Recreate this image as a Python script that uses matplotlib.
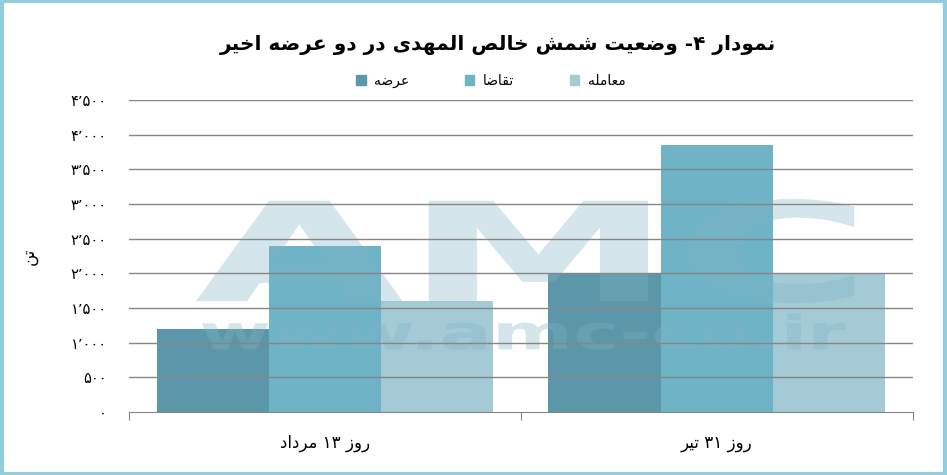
import re
import matplotlib
matplotlib.use("Agg")
import matplotlib.pyplot as plt
from matplotlib.patches import Rectangle, Patch, PathPatch
from matplotlib.textpath import TextPath
from matplotlib.font_manager import FontProperties
from matplotlib.transforms import Affine2D
import numpy as np

plt.rcParams['font.family'] = ['DejaVu Sans']

# data
categories = ["روز ۱۳ مرداد", "روز ۳۱ تیر"]
series_names = ["عرضه", "تقاضا", "معامله"]
arze = [1200, 2000]
taghaza = [2400, 3850]
moamele = [1600, 2000]
yticks = [0, 500, 1000, 1500, 2000, 2500, 3000, 3500, 4000, 4500]
ytick_labels = ["۰", "۵۰۰", "۱٬۰۰۰", "۱٬۵۰۰", "۲٬۰۰۰", "۲٬۵۰۰",
                "۳٬۰۰۰", "۳٬۵۰۰", "۴٬۰۰۰", "۴٬۵۰۰"]
title = "نمودار ۴- وضعیت شمش خالص المهدی در دو عرضه اخیر"
ylabel = "تن"

colors = ["#5B97A8", "#6FB3C6", "#A3CAD5"]

# simple arabic shaping: (isolated, final, initial, medial)
FORMS = {
    'ا': (0xFE8D, 0xFE8E, None, None),
    'ت': (0xFE95, 0xFE96, 0xFE97, 0xFE98),
    'خ': (0xFEA5, 0xFEA6, 0xFEA7, 0xFEA8),
    'د': (0xFEA9, 0xFEAA, None, None),
    'ر': (0xFEAD, 0xFEAE, None, None),
    'ز': (0xFEAF, 0xFEB0, None, None),
    'ش': (0xFEB5, 0xFEB6, 0xFEB7, 0xFEB8),
    'ص': (0xFEB9, 0xFEBA, 0xFEBB, 0xFEBC),
    'ض': (0xFEBD, 0xFEBE, 0xFEBF, 0xFEC0),
    'ع': (0xFEC9, 0xFECA, 0xFECB, 0xFECC),
    'ق': (0xFED5, 0xFED6, 0xFED7, 0xFED8),
    'ل': (0xFEDD, 0xFEDE, 0xFEDF, 0xFEE0),
    'م': (0xFEE1, 0xFEE2, 0xFEE3, 0xFEE4),
    'ن': (0xFEE5, 0xFEE6, 0xFEE7, 0xFEE8),
    'ه': (0xFEE9, 0xFEEA, 0xFEEB, 0xFEEC),
    'و': (0xFEED, 0xFEEE, None, None),
    'ی': (0xFEEF, 0xFEF0, 0xFEF3, 0xFEF4),
}


def fa(s):
    out = []
    for i, c in enumerate(s):
        if c not in FORMS:
            out.append(c)
            continue
        prev = s[i - 1] if i > 0 else ''
        nxt = s[i + 1] if i + 1 < len(s) else ''
        cp = prev in FORMS and FORMS[prev][2] is not None
        cn = FORMS[c][2] is not None and nxt in FORMS
        f = FORMS[c]
        if cp and cn:
            code = f[3]
        elif cp:
            code = f[1]
        elif cn:
            code = f[2]
        else:
            code = f[0]
        out.append(chr(code))
    v = ''.join(out)[::-1]
    # keep digit runs left to right
    return re.sub(r'[۰-۹٬]+', lambda m: m.group(0)[::-1], v)


def watermark(ax, txt, x0, x1, y0, y1):
    # stretch a bold text path into a box given in axes fraction
    tp = TextPath((0, 0), txt, size=100, prop=FontProperties(family='DejaVu Sans', weight='bold'))
    ext = tp.get_extents()
    tr = (Affine2D().translate(-ext.x0, -ext.y0)
          .scale((x1 - x0) / ext.width, (y1 - y0) / ext.height)
          .translate(x0, y0) + ax.transAxes)
    ax.add_patch(PathPatch(tp, transform=tr, facecolor='#7FB3C5', edgecolor='none',
                           alpha=0.33, zorder=3))


fig = plt.figure(figsize=(9.47, 4.75), dpi=100)
ax = fig.add_axes([0.1362, 0.1326, 0.8278, 0.6568])

x = np.arange(len(categories))
w = 0.2865
for vals, off, col, name in zip([arze, taghaza, moamele], [-w, 0, w], colors, series_names):
    ax.bar(x + off, vals, w, color=col, zorder=2, label=fa(name))

ax.set_xlim(-0.5, 1.5)
ax.set_ylim(0, 4500)
ax.set_yticks(yticks)
ax.set_yticklabels(ytick_labels, fontsize=10.5)
ax.tick_params(axis='y', length=0, pad=16)
for yv in yticks[1:]:
    ax.axhline(yv, color='#868686', linewidth=1, zorder=4)

ax.set_xticks([-0.5, 0.5, 1.5])
ax.set_xticklabels([])
ax.set_xticks(x, minor=True)
ax.set_xticklabels([fa(c) for c in categories], minor=True, fontsize=12)
ax.tick_params(axis='x', which='major', length=6, color='#868686', direction='out')
ax.tick_params(axis='x', which='minor', length=0, pad=16)

for s in ['top', 'right', 'left']:
    ax.spines[s].set_visible(False)
ax.spines['bottom'].set_color('#868686')
ax.spines['bottom'].set_zorder(5)

ax.set_ylabel(fa(ylabel), fontsize=12, rotation=90, labelpad=24)

watermark(ax, 'AMC', 0.0855, 0.925, 0.349, 0.683)
watermark(ax, 'www.amc-co.ir', 0.093, 0.914, 0.199, 0.317)

fig.text(0.526, 0.905, fa(title), ha='center', va='center', fontsize=14.5, fontweight='bold')

handles = [Patch(color=c) for c in colors]
fig.legend(handles, [fa(n) for n in series_names], loc='center', bbox_to_anchor=(0.518, 0.83),
           ncol=3, frameon=False, fontsize=10, handlelength=0.7, handleheight=0.7,
           columnspacing=4.0, handletextpad=0.6)

fig.patches.append(Rectangle((0.002, 0.003), 0.996, 0.994, transform=fig.transFigure,
                             fill=False, edgecolor='#92CDDC', linewidth=3))

fig.savefig('out.png', dpi=100)
